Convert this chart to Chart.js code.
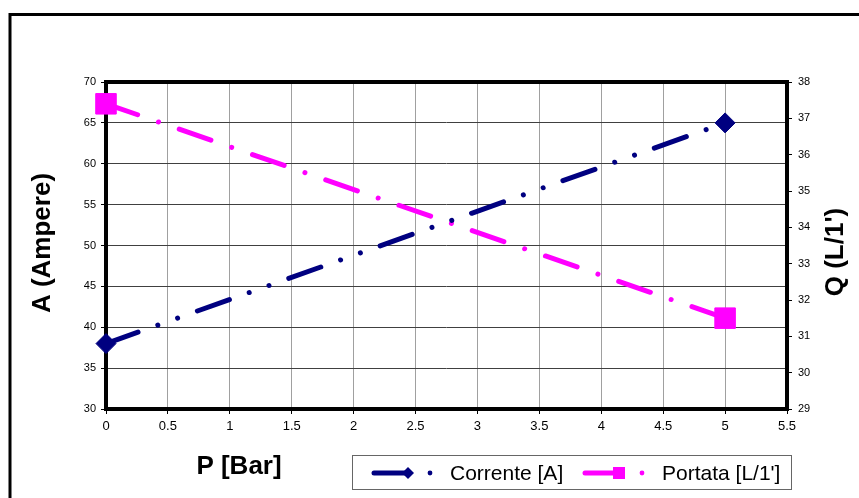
<!DOCTYPE html>
<html>
<head>
<meta charset="utf-8">
<script src="https://cdn.jsdelivr.net/npm/chart.js@4"></script>
<style>
  html, body { margin: 0; padding: 0; background: #fff; }
  #wrap { width: 859px; height: 498px; position: relative; }
</style>
</head>
<body>
<div id="wrap"><canvas id="c" width="859" height="498"></canvas></div>
<script>
// ---- data ----
const pressure = [0, 5];              // P [Bar]
const corrente = [38, 65];            // Corrente [A]  (left axis)
const portata = [37.4, 31.5];         // Portata [L/1'] (right axis)
const seriesNames = ['Corrente [A]', "Portata [L/1']"];
const axisTitles = { x: 'P [Bar]', y: 'A (Ampere)', y1: "Q (L/1')" };
const xRange = [0, 5.5, 0.5];
const yRange = [30, 70, 5];
const y1Range = [29, 38, 1];

const NAVY = '#000080';
const MAGENTA = '#FF00FF';
const DASH_C = [34, 21, 0.01, 21, 0.01, 21];
const DASH_P = [33.5, 22, 0.01, 22];

const frame = {
  id: 'frame',
  beforeDatasetsDraw(chart) {
    const { ctx, chartArea: a } = chart;
    ctx.save();
    ctx.strokeStyle = '#000';
    ctx.lineWidth = 4;
    ctx.strokeRect(a.left, a.top, a.right - a.left, a.bottom - a.top);
    ctx.restore();
  },
  afterDraw(chart) {
    const { ctx } = chart;
    ctx.save();
    // outer frame
    ctx.strokeStyle = '#000';
    ctx.lineWidth = 3;
    ctx.beginPath();
    ctx.moveTo(10, 498);
    ctx.lineTo(10, 14.5);
    ctx.lineTo(859, 14.5);
    ctx.stroke();

    // axis titles
    ctx.fillStyle = '#000';
    ctx.font = 'bold 26px "Liberation Sans", Arial, sans-serif';
    ctx.textAlign = 'center';
    ctx.textBaseline = 'middle';
    ctx.fillText(axisTitles.x, 239, 467);
    ctx.save();
    ctx.translate(43, 243);
    ctx.rotate(-Math.PI / 2);
    ctx.fillText(axisTitles.y, 0, 0);
    ctx.restore();
    ctx.save();
    ctx.translate(836, 252);
    ctx.rotate(-Math.PI / 2);
    ctx.fillText(axisTitles.y1, 0, 0);
    ctx.restore();

    // legend box
    ctx.strokeStyle = '#666';
    ctx.lineWidth = 1;
    ctx.strokeRect(352.5, 455.5, 439, 34);
    const ly = 473;
    // Corrente sample
    ctx.strokeStyle = NAVY; ctx.fillStyle = NAVY;
    ctx.lineWidth = 5; ctx.lineCap = 'round';
    ctx.beginPath(); ctx.moveTo(374, ly); ctx.lineTo(408, ly); ctx.stroke();
    ctx.beginPath();
    ctx.moveTo(408, ly - 6); ctx.lineTo(414, ly); ctx.lineTo(408, ly + 6); ctx.lineTo(402, ly);
    ctx.closePath(); ctx.fill();
    ctx.beginPath(); ctx.arc(430, ly, 2.4, 0, Math.PI * 2); ctx.fill();
    // Portata sample
    ctx.strokeStyle = MAGENTA; ctx.fillStyle = MAGENTA;
    ctx.beginPath(); ctx.moveTo(585, ly); ctx.lineTo(619, ly); ctx.stroke();
    ctx.fillRect(613, ly - 6, 12, 12);
    ctx.beginPath(); ctx.arc(642, ly, 2.4, 0, Math.PI * 2); ctx.fill();
    // labels
    ctx.fillStyle = '#000';
    ctx.font = '21px "Liberation Sans", Arial, sans-serif';
    ctx.textAlign = 'left';
    ctx.fillText(seriesNames[0], 450, ly + 1);
    ctx.fillText(seriesNames[1], 662, ly + 1);
    ctx.restore();
  }
};

const tickFont = (s) => ({ family: '"Liberation Sans", Arial, sans-serif', size: s });

new Chart(document.getElementById('c'), {
  type: 'scatter',
  data: {
    datasets: [
      {
        label: seriesNames[0],
        data: pressure.map((x, i) => ({ x, y: corrente[i] })),
        yAxisID: 'y',
        showLine: true,
        clip: false,
        borderColor: NAVY,
        backgroundColor: NAVY,
        borderWidth: 5,
        borderDash: DASH_C,
        borderCapStyle: 'round',
        pointStyle: 'rectRot',
        pointRadius: 10,
        pointBorderWidth: 1,
        pointBackgroundColor: NAVY,
        pointBorderColor: NAVY
      },
      {
        label: seriesNames[1],
        data: pressure.map((x, i) => ({ x, y: portata[i] })),
        yAxisID: 'y1',
        showLine: true,
        clip: false,
        borderColor: MAGENTA,
        backgroundColor: MAGENTA,
        borderWidth: 5,
        borderDash: DASH_P,
        borderCapStyle: 'round',
        pointStyle: 'rect',
        pointRadius: 14.5,
        pointBorderWidth: 1,
        pointBackgroundColor: MAGENTA,
        pointBorderColor: MAGENTA
      }
    ]
  },
  options: {
    responsive: false,
    animation: false,
    devicePixelRatio: 1,
    layout: { padding: { top: 82, left: 0, right: 0, bottom: 0 } },
    plugins: { legend: { display: false }, tooltip: { enabled: false } },
    scales: {
      x: {
        type: 'linear',
        min: xRange[0], max: xRange[1],
        afterBuildTicks: (s) => {
          const t = [];
          for (let v = xRange[0]; v <= xRange[1] + 1e-9; v += xRange[2]) t.push({ value: Math.round(v * 10) / 10 });
          s.ticks = t;
        },
        afterFit: (s) => { s.height = 498 - 409; },
        ticks: { color: '#000', font: tickFont(13), padding: 5, maxRotation: 0, autoSkip: false, callback: (v) => String(v) },
        grid: { color: '#a0a0a0', lineWidth: 1, tickLength: 5, tickColor: '#000', tickWidth: 1 },
        border: { display: false }
      },
      y: {
        position: 'left',
        min: yRange[0], max: yRange[1],
        ticks: { stepSize: yRange[2], color: '#000', font: tickFont(11), padding: 5, callback: (v) => String(v) },
        afterFit: (s) => { s.width = 106; },
        grid: { color: '#404040', lineWidth: 1, tickLength: 5, tickColor: '#000', tickWidth: 1 },
        border: { display: false }
      },
      y1: {
        position: 'right',
        min: y1Range[0], max: y1Range[1],
        ticks: { stepSize: y1Range[2], color: '#000', font: tickFont(11), padding: 6, callback: (v) => String(v) },
        afterFit: (s) => { s.width = 859 - 787; },
        grid: { drawOnChartArea: false, tickLength: 5, tickColor: '#000', tickWidth: 1 },
        border: { display: false }
      }
    }
  },
  plugins: [frame]
});
</script>
</body>
</html>
